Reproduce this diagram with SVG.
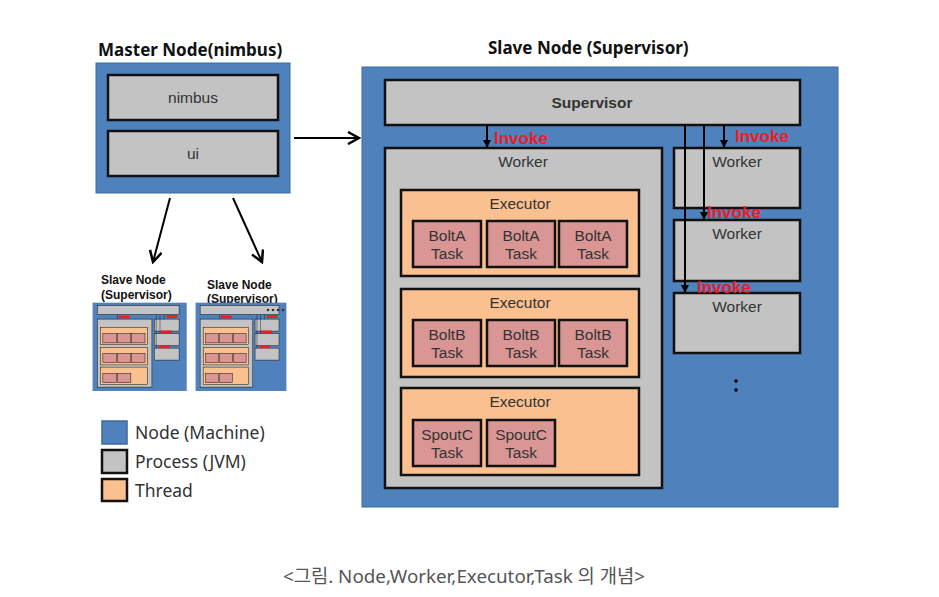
<svg xmlns="http://www.w3.org/2000/svg" xmlns:xlink="http://www.w3.org/1999/xlink" width="939" height="597" viewBox="0 0 939 597">
<style>
.node{fill:#4f81bd;stroke:#3c6a9e;stroke-width:1}
.proc{fill:#c3c3c3;stroke:#111;stroke-width:2.5}
.thr{fill:#fac090;stroke:#111;stroke-width:2.5}
.task{fill:#d99694;stroke:#111;stroke-width:2.5}
.t{font-family:"Liberation Sans",Arial,sans-serif;font-size:15.5px;fill:#333;text-anchor:middle}
.b{font-family:"Noto Sans","Liberation Sans",sans-serif;font-weight:bold;fill:#111}
.sb{font-family:"Liberation Sans",Arial,sans-serif;font-weight:bold;font-size:12px;fill:#111}
.inv{font-family:"Liberation Sans",Arial,sans-serif;font-weight:bold;font-size:17px;fill:#ee1c24}
.lg{font-family:"Noto Sans","Liberation Sans",sans-serif;font-size:17.5px;fill:#333}
.ln{stroke:#000;stroke-width:2;fill:none}
.inr{fill:#ee1c24}
</style>
<defs>
<marker id="tri" markerWidth="8" markerHeight="8" refX="7" refY="4" orient="auto" markerUnits="userSpaceOnUse" viewBox="0 0 8 8">
<path d="M0,0 L8,4 L0,8 Z" fill="#000"/>
</marker>
<marker id="open" markerWidth="14" markerHeight="14" refX="12" refY="7" orient="auto" markerUnits="userSpaceOnUse" viewBox="0 0 14 14">
<path d="M1,1 L12,7 L1,13" fill="none" stroke="#000" stroke-width="2.5"/>
</marker>
<g id="thumb">
<rect class="node" x="362" y="67" width="476" height="440"/>
<rect class="proc" x="385" y="80" width="415" height="45"/>
<rect class="proc" x="385" y="148" width="277" height="340"/>
<rect class="thr" x="401" y="190" width="238" height="86"/>
<rect class="thr" x="401" y="289" width="238" height="88"/>
<rect class="thr" x="401" y="388" width="238" height="87"/>
<rect class="task" x="413" y="221" width="68" height="46"/><rect class="task" x="487" y="221" width="68" height="46"/><rect class="task" x="559" y="221" width="68" height="46"/>
<rect class="task" x="413" y="320" width="68" height="46"/><rect class="task" x="487" y="320" width="68" height="46"/><rect class="task" x="559" y="320" width="68" height="46"/>
<rect class="task" x="413" y="420" width="68" height="46"/><rect class="task" x="487" y="420" width="68" height="46"/>
<rect class="proc" x="674" y="148" width="126" height="60"/>
<rect class="proc" x="674" y="220" width="126" height="61"/>
<rect class="proc" x="674" y="293" width="126" height="60"/>
<path class="ln" d="M487,125 V148 M684,125 V293 M703,125 V220 M724,125 V148" stroke-width="4"/>
<rect class="inr" x="494" y="130" width="56" height="14"/>
<rect class="inr" x="735" y="128" width="56" height="14"/>
<rect class="inr" x="707" y="205" width="56" height="14"/>
<rect class="inr" x="697" y="281" width="56" height="12"/>
</g>
</defs>

<g id="master-node">
<text class="b" x="98" y="56" font-size="17">Master Node(nimbus)</text>
<rect class="node" x="96" y="63" width="194" height="130"/>
<g id="nimbus"><rect class="proc" x="108" y="75" width="170" height="45"/><text class="t" x="193" y="103" font-size="16">nimbus</text></g>
<g id="ui"><rect class="proc" x="108" y="131" width="170" height="45"/><text class="t" x="193" y="159" font-size="16">ui</text></g>
</g>

<g id="slave-thumb-1">
<text class="sb" x="101" y="284">Slave Node</text>
<text class="sb" x="101" y="299">(Supervisor)</text>
<use xlink:href="#thumb" href="#thumb" transform="translate(21.5,289.5) scale(0.197,0.2)"/>
</g>
<g id="slave-thumb-2">
<text class="sb" x="207" y="289">Slave Node</text>
<text class="sb" x="207" y="303">(Supervisor)</text>
<use xlink:href="#thumb" href="#thumb" transform="translate(127,289.5) scale(0.19,0.2)"/>
<circle cx="268" cy="310" r="1.3" fill="#333"/><circle cx="273" cy="310" r="1.3" fill="#333"/><circle cx="278" cy="310" r="1.3" fill="#333"/><circle cx="283" cy="310" r="1.3" fill="#333"/>
</g>

<g id="slave-node">
<text class="b" x="488" y="54" font-size="17">Slave Node (Supervisor)</text>
<rect class="node" x="362" y="67" width="476" height="440"/>
<g id="supervisor"><rect class="proc" x="385" y="80" width="415" height="45"/><text class="t" x="592" y="108" font-weight="bold" font-size="15" fill="#111">Supervisor</text></g>
<g id="worker-main">
<rect class="proc" x="385" y="148" width="277" height="340"/>
<text class="t" x="523" y="167">Worker</text>
<g id="executor-1">
<rect class="thr" x="401" y="190" width="238" height="86"/>
<text class="t" x="520" y="209">Executor</text>
<g id="task-a1"><rect class="task" x="413" y="221" width="68" height="46"/><text class="t" x="447" y="241">BoltA</text><text class="t" x="447" y="259">Task</text></g>
<g id="task-a2"><rect class="task" x="487" y="221" width="68" height="46"/><text class="t" x="521" y="241">BoltA</text><text class="t" x="521" y="259">Task</text></g>
<g id="task-a3"><rect class="task" x="559" y="221" width="68" height="46"/><text class="t" x="593" y="241">BoltA</text><text class="t" x="593" y="259">Task</text></g>
</g>
<g id="executor-2">
<rect class="thr" x="401" y="289" width="238" height="88"/>
<text class="t" x="520" y="308">Executor</text>
<g id="task-b1"><rect class="task" x="413" y="320" width="68" height="46"/><text class="t" x="447" y="340">BoltB</text><text class="t" x="447" y="358">Task</text></g>
<g id="task-b2"><rect class="task" x="487" y="320" width="68" height="46"/><text class="t" x="521" y="340">BoltB</text><text class="t" x="521" y="358">Task</text></g>
<g id="task-b3"><rect class="task" x="559" y="320" width="68" height="46"/><text class="t" x="593" y="340">BoltB</text><text class="t" x="593" y="358">Task</text></g>
</g>
<g id="executor-3">
<rect class="thr" x="401" y="388" width="238" height="87"/>
<text class="t" x="520" y="407">Executor</text>
<g id="task-c1"><rect class="task" x="413" y="420" width="68" height="46"/><text class="t" x="447" y="440">SpoutC</text><text class="t" x="447" y="458">Task</text></g>
<g id="task-c2"><rect class="task" x="487" y="420" width="68" height="46"/><text class="t" x="521" y="440">SpoutC</text><text class="t" x="521" y="458">Task</text></g>
</g>
</g>
<g id="worker-2"><rect class="proc" x="674" y="148" width="126" height="60"/><text class="t" x="737" y="167">Worker</text></g>
<g id="worker-3"><rect class="proc" x="674" y="220" width="126" height="61"/><text class="t" x="737" y="239">Worker</text></g>
<g id="worker-4"><rect class="proc" x="674" y="293" width="126" height="60"/><text class="t" x="737" y="312">Worker</text></g>
<circle cx="736" cy="381" r="1.8" fill="#000"/><circle cx="736" cy="390" r="1.8" fill="#000"/>
</g>

<g id="connectors">
<line class="ln" x1="294" y1="138" x2="359" y2="138" marker-end="url(#open)"/>
<line class="ln" x1="170" y1="198" x2="153" y2="262" marker-end="url(#open)"/>
<line class="ln" x1="233" y1="198" x2="262" y2="262" marker-end="url(#open)"/>
<line class="ln" x1="487" y1="125" x2="487" y2="147" marker-end="url(#tri)"/>
<line class="ln" x1="724" y1="125" x2="724" y2="147" marker-end="url(#tri)"/>
<line class="ln" x1="704" y1="125" x2="704" y2="219" marker-end="url(#tri)"/>
<line class="ln" x1="685" y1="125" x2="685" y2="292" marker-end="url(#tri)"/>
<text class="inv" x="494" y="144">Invoke</text>
<text class="inv" x="735" y="142">Invoke</text>
<text class="inv" x="707" y="218">Invoke</text>
<text class="inv" x="697" y="293">Invoke</text>
</g>

<g id="legend">
<rect x="102" y="421" width="25" height="23" fill="#4f81bd" stroke="#3c6a9e" stroke-width="1.5"/>
<text class="lg" x="135" y="439">Node (Machine)</text>
<rect x="102" y="450" width="25" height="23" fill="#c3c3c3" stroke="#111" stroke-width="2.5"/>
<text class="lg" x="135" y="468">Process (JVM)</text>
<rect x="102" y="479" width="25" height="22" fill="#fac090" stroke="#111" stroke-width="2.5"/>
<text class="lg" x="135" y="497">Thread</text>
</g>

<text x="464" y="583" text-anchor="middle" font-family="'Noto Sans','Noto Sans CJK KR',sans-serif" font-size="18.8" fill="#555">&lt;그림. Node,Worker,Executor,Task 의 개념&gt;</text>
</svg>
